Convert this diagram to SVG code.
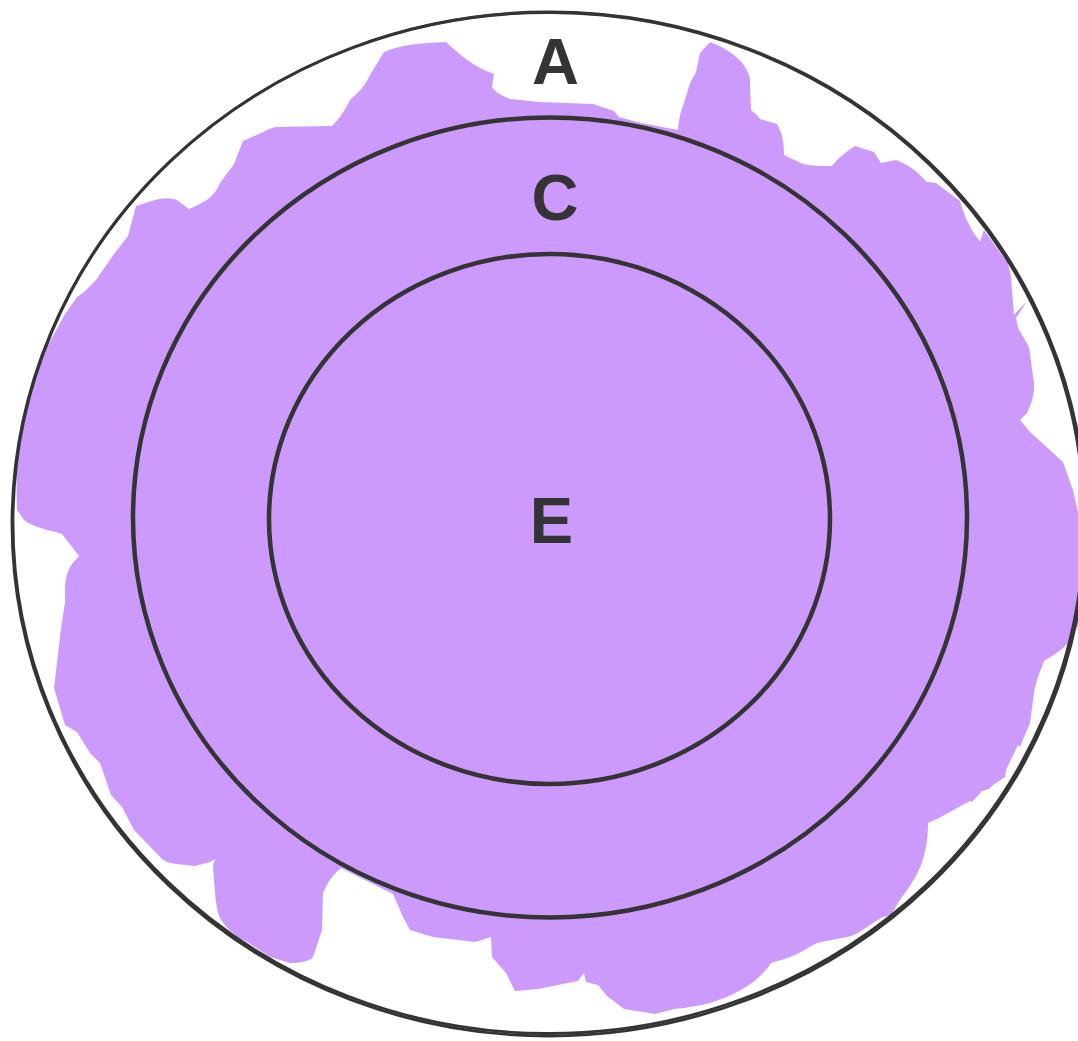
<svg xmlns="http://www.w3.org/2000/svg" width="1078" height="1041" viewBox="0 0 1078 1041">
<style>
.ring{fill:none;stroke:#343434;stroke-width:4.5}
.ring2{fill:none;stroke:#343434;stroke-width:2.8}
.lbl{font-family:"Liberation Sans",Arial,sans-serif;font-weight:bold;font-size:65px;fill:#343434;text-anchor:middle}
</style>
<rect width="1078" height="1041" fill="#ffffff"/>
<g id="blob">
<path fill="#cc99fd" d="M446,42 C458,53 475,68 494,74 L492,87 C496,93 503,96 510,99 L540,102 L593,104 L614,111 L619,117 L641,123 L678,130 C679,118 681,110 683,106 L690,83 L696,72 L700,53 L710,42 C725,47 740,58 745,67 C751,76 750,83 750,83 L751,110 L757,115 L760,119 L777,124 C782,133 784,140 784,155 L803,164 C812,166 822,166 832,166 C836,161 841,155 855,146 L874,152 L881,163 L896,160 C905,164 912,166 927,182 L936,183 L960,201 C963,211 968,227 979,240 L980,242 L984,230 L996,247 L1008,263 L1011,277 L1014,315 L1027,301 L1016,318 L1018,328 L1029,347 L1034,383 C1035,395 1030,407 1027,413 L1020,420 L1030,432 L1063,462 L1073,490 L1078,512 L1078,626 L1070,640 C1066,646 1062,650 1044,661 L1042,667 C1036,680 1034,693 1034,693 L1030,723 L1024,737 L1020,747 L1018,745 L1006,770 L1005,777 L993,785 L989,789 L982,791 L972,802 L970,801 L937,819 L928,823 C928,834 927,840 927,840 C924,869 910,886 898,903 L891,915 L881,918 C865,928 858,934 851,936 C830,941 820,941 813,945 C800,953 790,958 771,963 C760,980 740,994 710,1003 C690,1008 674,1009 674,1009 L655,1014 L624,1009 L607,996 L598,985 L586,982 L584,973 L578,981 L538,989 L515,991 L506,973 L492,957 L491,937 L475,942 L450,939 L433,937 L410,930 L403,917 L393,894 L341,868 C332,876 329,880 323,893 L322,930 L313,957 C310,961 300,963 290,963 L270,957 L247,942 L238,937 C226,928 220,920 218,913 C215,900 214,880 213,865 L215,859 L210,862 L195,866 L176,864 C170,863 166,862 162,859 L134,830 L122,807 L111,795 L100,763 L90,753 L77,732 L65,725 L54,688 L60,637 C62,621 65,603 65,603 L65,587 C66,573 69,566 79,556 L62,534 C50,530 34,528 24,520 L17,510 C16,480 17,455 19,440 C22,416 30,385 41,358 L65,314 L77,297 C85,292 90,286 96,280 L114,254 L128,236 L136,206 C150,202 163,195 177,200 L189,209 C203,203 214,198 220,183 L234,164 L243,141 C258,135 268,129 275,127 L332,126 C340,118 345,110 350,100 C358,93 365,86 370,75 L384,52 C400,45 420,43 446,42 Z"/>
</g>
<g id="A">
<ellipse class="ring2" cx="549" cy="524" rx="537" ry="512"/>
<ellipse class="ring2" cx="548.5" cy="523" rx="535.5" ry="510.5" transform="rotate(0.4 548.5 523)"/>
<text class="lbl" x="555.5" y="84">A</text>
</g>
<g id="C">
<ellipse class="ring" cx="550" cy="517.5" rx="417" ry="400"/>
<text class="lbl" x="555" y="220">C</text>
</g>
<g id="E">
<ellipse class="ring" cx="549.5" cy="519" rx="280.5" ry="265"/>
<text class="lbl" x="551.5" y="543">E</text>
</g>
<g id="connectors"></g>
</svg>
